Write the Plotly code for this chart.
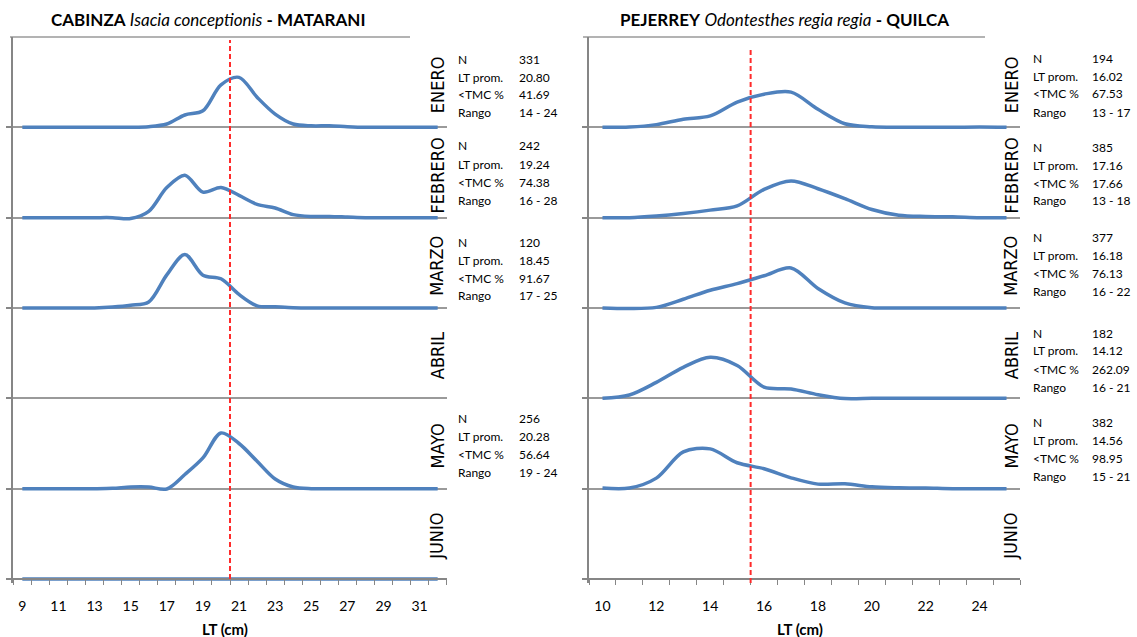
import plotly.graph_objects as go

# ---------------------------------------------------------------------------
# Length-frequency data (frequency %, by 1 cm length class)
# ---------------------------------------------------------------------------
MONTHS = ["ENERO", "FEBRERO", "MARZO", "ABRIL", "MAYO", "JUNIO"]

# CABINZA Isacia conceptionis - Matarani, classes 9..32 cm
cab_lt = [9, 10, 11, 12, 13, 14, 15, 16, 17, 18, 19, 20,
          21, 22, 23, 24, 25, 26, 27, 28, 29, 30, 31, 32]
cab_enero = [0, 0, 0, 0, 0, 0, 0, 0.2, 1.1, 4.1, 5.5, 14.1,
             16.6, 10.0, 4.4, 1.1, 0.5, 0.5, 0.2, 0, 0, 0, 0, 0]
cab_febrero = [0, 0, 0, 0, 0, 0, -0.3, 2.1, 10.0, 14.1, 8.5, 10.0,
               7.4, 4.4, 3.2, 1.0, 0.4, 0.4, 0.2, 0, 0, 0, 0, 0]
cab_marzo = [0, 0, 0, 0, 0, 0.3, 0.9, 2.0, 11.0, 17.8, 10.9, 9.7,
             4.5, 0.7, 0.4, 0.1, 0, 0, 0, 0, 0, 0, 0, 0]
cab_abril = None
cab_mayo = [0, 0, 0, 0, 0, 0.1, 0.55, 0.55, -0.1, 4.7, 10.2, 18.5,
            15.0, 9.1, 3.2, 0.55, 0, 0, 0, 0, 0, 0, 0, 0]
cab_junio = [0, 0, 0, 0, 0, 0, 0, 0, 0, 0, 0, 0,
             0, 0, 0, 0, 0, 0, 0, 0, 0, 0, 0, 0]
cab_tmc = 20.5

cab_n = ["331", "242", "120", None, "256", None]
cab_lt_prom = ["20.80", "19.24", "18.45", None, "20.28", None]
cab_bajo_tmc = ["41.69", "74.38", "91.67", None, "56.64", None]
cab_rango = ["14 - 24", "16 - 28", "17 - 25", None, "19 - 24", None]

# PEJERREY Odontesthes regia regia - Quilca, classes 10..25 cm
pej_lt = [10, 11, 12, 13, 14, 15, 16, 17, 18, 19, 20, 21, 22, 23, 24, 25]
pej_enero = [0, 0.1, 0.9, 2.7, 3.8, 8.4, 11.0, 11.7, 6.0, 1.2, 0.2, 0, 0, 0, 0.1, 0]
pej_febrero = [0, 0, 0.55, 1.4, 2.5, 3.9, 9.4, 12.2, 9.6, 6.3, 2.7, 0.8, 0.4, 0.3, 0, 0]
pej_marzo = [0, -0.2, 0.2, 2.9, 5.9, 8.1, 10.7, 13.3, 6.5, 1.7, 0.1, 0, 0, 0, 0, 0]
pej_abril = [0, 1.1, 5.3, 10.3, 13.6, 10.9, 3.7, 3.1, 1.2, -0.1, 0, 0, 0, 0, 0, 0]
pej_mayo = [0.2, 0.2, 3.5, 12.2, 13.2, 8.6, 6.6, 3.6, 1.5, 1.6, 0.6, 0.3, 0.2, 0, 0, 0]
pej_junio = None
pej_tmc = 15.5

pej_n = ["194", "385", "377", "182", "382", None]
pej_lt_prom = ["16.02", "17.16", "16.18", "14.12", "14.56", None]
pej_bajo_tmc = ["67.53", "17.66", "76.13", "262.09", "98.95", None]
pej_rango = ["13 - 17", "13 - 18", "16 - 22", "16 - 21", "15 - 21", None]

STAT_LABELS = ["N", "LT prom.", "<TMC %", "Rango"]

# ---------------------------------------------------------------------------
# Layout constants (pixels of the 1137 x 637 page)
# ---------------------------------------------------------------------------
W, H = 1137, 637
ROW_TOP = 37.0
ROW_H = 90.33
PAD = 4.0                      # room below each baseline so the line isn't clipped
Y_MAX = 30.0
PX_PER_UNIT = ROW_H / Y_MAX

BLUE = "#4F81BD"
AXIS = "#868686"
GRID = "#9A9A9A"
RED = "#FF2B2B"
TXT_FONT = "Lato, 'Open Sans', sans-serif"
MONTH_FONT = "'Liberation Sans Narrow', 'Arial Narrow', 'DejaVu Sans Condensed', sans-serif"


def fx(p):
    return p / W


def fy(p):
    return 1 - p / H


panels = [
    dict(x0=13.3, x1=446.7, lt=cab_lt,
         series=[cab_enero, cab_febrero, cab_marzo, cab_abril, cab_mayo, cab_junio],
         xr=[8.5, 32.5], ticks=cab_lt[::2], tmc=cab_tmc,
         stats=[cab_n, cab_lt_prom, cab_bajo_tmc, cab_rango],
         stat_x=(456, 517), stat_top=[59, 146, 242, None, 418, None],
         month_x=437, red_y=(579, 40), top_line=(10, 410),
         title="<b>CABINZA</b> <i>Isacia conceptionis</i> <b>- MATARANI</b>",
         title_x=208, xlabel_x=225),
    dict(x0=589.0, x1=1020.0, lt=pej_lt,
         series=[pej_enero, pej_febrero, pej_marzo, pej_abril, pej_mayo, pej_junio],
         xr=[9.5, 25.5], ticks=pej_lt[::2], tmc=pej_tmc,
         stats=[pej_n, pej_lt_prom, pej_bajo_tmc, pej_rango],
         stat_x=(1031, 1090), stat_top=[58, 147, 237, 333, 422, None],
         month_x=1011, red_y=(583, 48), top_line=(583, 985),
         title="<b>PEJERREY</b> <i>Odontesthes regia regia</i> <b>- QUILCA</b>",
         title_x=784, xlabel_x=800),
]

fig = go.Figure()
layout = {}
annotations = []
shapes = []

for pi, pnl in enumerate(panels):
    for r in range(6):
        k = pi * 6 + r + 1
        xname = "xaxis" if k == 1 else f"xaxis{k}"
        yname = "yaxis" if k == 1 else f"yaxis{k}"
        xref = "x" if k == 1 else f"x{k}"
        yref = "y" if k == 1 else f"y{k}"
        top = ROW_TOP + r * ROW_H
        bot = top + ROW_H

        xa = dict(domain=[fx(pnl["x0"]), fx(pnl["x1"])], range=pnl["xr"],
                  anchor=yref, showgrid=False, zeroline=False, showline=False,
                  showticklabels=False, ticks="")
        if r == 5:
            xa.update(anchor="free", position=fy(bot), showline=True,
                      linecolor=AXIS, linewidth=1.5,
                      tickmode="array", tickvals=pnl["ticks"],
                      showticklabels=True, ticks="",
                      ticklabelstandoff=14,
                      tickfont=dict(family=TXT_FONT, size=14, color="#000"),
                      minor=dict(ticks="outside", tick0=pnl["xr"][0], dtick=1,
                                 ticklen=5, tickwidth=1, tickcolor=AXIS,
                                 showgrid=False))
        layout[xname] = xa

        layout[yname] = dict(domain=[fy(bot + PAD), fy(top)],
                             range=[-PAD / PX_PER_UNIT, Y_MAX], anchor=xref,
                             showgrid=False, zeroline=True, zerolinecolor=GRID,
                             zerolinewidth=1.5, showline=True, linecolor=AXIS,
                             linewidth=2, tickmode="array", tickvals=[0],
                             ticks="outside", ticklen=5, tickwidth=1.5,
                             tickcolor=AXIS, showticklabels=False)

        vals = pnl["series"][r]
        if vals is not None:
            fig.add_trace(go.Scatter(x=pnl["lt"], y=vals, mode="lines",
                                     line=dict(color=BLUE, width=3.5,
                                               shape="spline", smoothing=0.9),
                                     xaxis=xref, yaxis=yref,
                                     showlegend=False, hoverinfo="skip"))
        else:
            # month without samples: keep the empty row frame
            fig.add_trace(go.Scatter(x=[None], y=[None], mode="lines",
                                     xaxis=xref, yaxis=yref,
                                     showlegend=False, hoverinfo="skip"))

        # month label
        annotations.append(dict(text=MONTHS[r], textangle=-90,
                                x=fx(pnl["month_x"]), y=fy((top + bot) / 2 + 3),
                                xref="paper", yref="paper", showarrow=False,
                                xanchor="center", yanchor="middle",
                                font=dict(family=MONTH_FONT, size=18, color="#000")))

        # stats block
        st = pnl["stat_top"][r]
        if st is not None and pnl["stats"][0][r] is not None:
            for li, lab in enumerate(STAT_LABELS):
                yy = fy(st + li * 18)
                annotations.append(dict(text=lab, x=fx(pnl["stat_x"][0]), y=yy,
                                        xref="paper", yref="paper", showarrow=False,
                                        xanchor="left", yanchor="middle",
                                        font=dict(family=TXT_FONT, size=12, color="#000")))
                annotations.append(dict(text=pnl["stats"][li][r], x=fx(pnl["stat_x"][1]),
                                        y=yy, xref="paper", yref="paper",
                                        showarrow=False, xanchor="left",
                                        yanchor="middle",
                                        font=dict(family=TXT_FONT, size=12, color="#000")))

    # minimum catch size reference line
    bx = "x" if pi == 0 else "x7"
    shapes.append(dict(type="line", xref=bx, yref="paper",
                       x0=pnl["tmc"], x1=pnl["tmc"],
                       y0=fy(pnl["red_y"][0]), y1=fy(pnl["red_y"][1]),
                       line=dict(color=RED, width=2, dash="5px,3px"), layer="above"))
    # top border
    shapes.append(dict(type="line", xref="paper", yref="paper",
                       x0=fx(pnl["top_line"][0]), x1=fx(pnl["top_line"][1]),
                       y0=fy(ROW_TOP), y1=fy(ROW_TOP),
                       line=dict(color=GRID, width=1.5), layer="below"))

    annotations.append(dict(text=pnl["title"], x=fx(pnl["title_x"]), y=fy(20),
                            xref="paper", yref="paper", showarrow=False,
                            xanchor="center", yanchor="middle",
                            font=dict(family=TXT_FONT, size=17, color="#000")))
    annotations.append(dict(text="<b>LT (cm)</b>", x=fx(pnl["xlabel_x"]), y=fy(629),
                            xref="paper", yref="paper", showarrow=False,
                            xanchor="center", yanchor="middle",
                            font=dict(family=TXT_FONT, size=15, color="#000")))

fig.update_layout(width=W, height=H, margin=dict(l=0, r=0, t=0, b=0),
                  paper_bgcolor="white", plot_bgcolor="rgba(0,0,0,0)",
                  showlegend=False, annotations=annotations, shapes=shapes,
                  **layout)

fig.write_html("out.html", config={"displayModeBar": False})
